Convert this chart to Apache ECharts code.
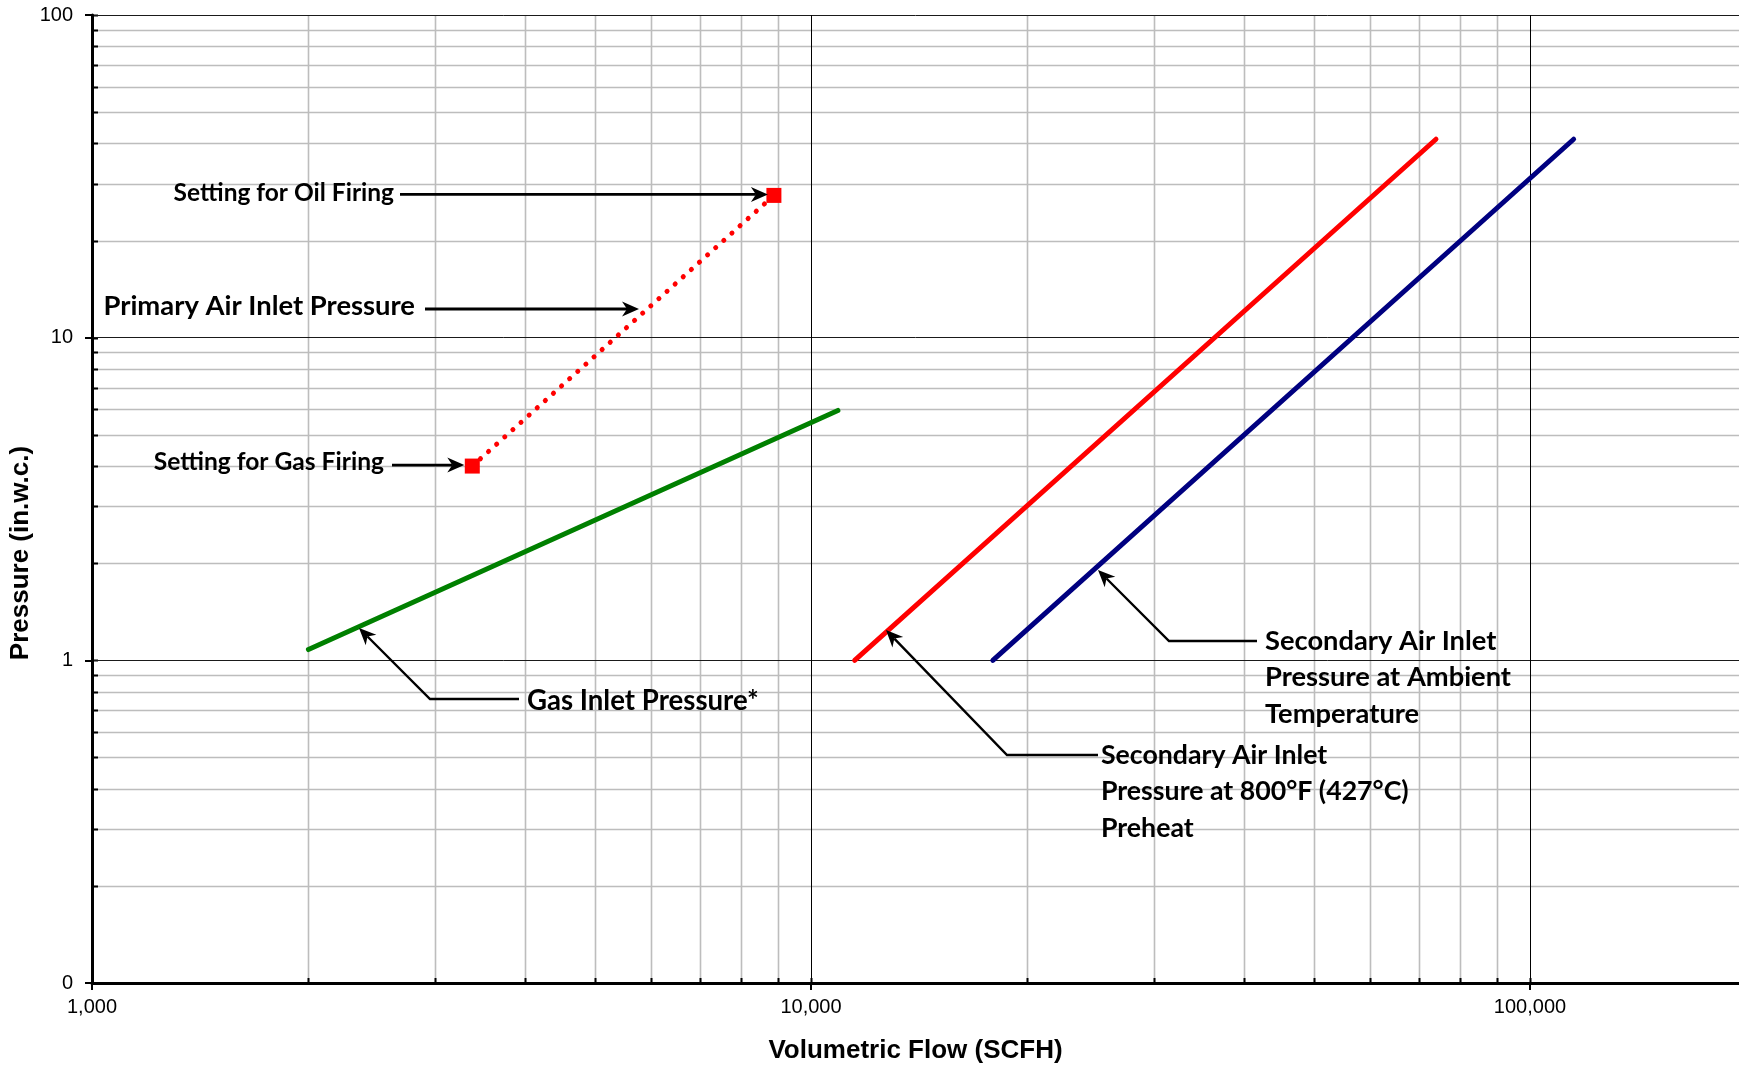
<!DOCTYPE html>
<html>
<head>
<meta charset="utf-8">
<script src="https://cdn.jsdelivr.net/npm/echarts@6/dist/echarts.min.js"></script>
<style>
  html, body { margin: 0; padding: 0; background: #ffffff; }
  #chart { width: 1739px; height: 1068px; }
</style>
</head>
<body>
<div id="chart"></div>
<script>
// Axis ticks and labels
const xTickValues = [1000, 10000, 100000];
const xTickLabels = ['1,000', '10,000', '100,000'];
const yTickValues = [0.1, 1, 10, 100];
const yTickLabels = ['0', '1', '10', '100'];
const xMinorGrid = [2000, 3000, 4000, 5000, 6000, 7000, 8000, 9000,
                    20000, 30000, 40000, 50000, 60000, 70000, 80000, 90000];
const yMinorGrid = [0.2, 0.3, 0.4, 0.5, 0.6, 0.7, 0.8, 0.9,
                    2, 3, 4, 5, 6, 7, 8, 9,
                    20, 30, 40, 50, 60, 70, 80, 90];

// Curves: [volumetric flow SCFH, pressure in.w.c.]
const primaryAir = [[3380, 4.0], [8880, 27.6]];
const gasInlet = [[2000, 1.08], [10900, 5.95]];
const secondaryPreheat = [[11500, 1.0], [74000, 41.2]];
const secondaryAmbient = [[17900, 1.0], [115000, 41.2]];

const X_MIN = 1000, X_MAX = 195300, Y_MIN = 0.1, Y_MAX = 100;

const chart = echarts.init(document.getElementById('chart'), null, { renderer: 'canvas' });

// Minor grid lines plus the short inside tick marks along both axes
const gridData = [];
xMinorGrid.forEach(v => gridData.push([v, 1, 0, 1]));
xTickValues.forEach(v => gridData.push([v, 1, 0, 0]));
yMinorGrid.forEach(v => gridData.push([X_MIN * 10, v, 1, 1]));
yTickValues.forEach(v => gridData.push([X_MIN * 10, v, 1, 0]));

function renderGrid(params, api) {
  const cs = params.coordSys;
  const kind = api.value(2);
  const withLine = api.value(3) === 1;
  const children = [];
  if (kind === 0) {
    const p = api.coord([api.value(0), 1]);
    const x = Math.round(p[0]) + 0.5;
    if (withLine) {
      children.push({ type: 'line', shape: { x1: x, y1: cs.y, x2: x, y2: cs.y + cs.height },
        style: { stroke: '#bdbdbd', lineWidth: 1.6 } });
    }
    children.push({ type: 'line', shape: { x1: x, y1: cs.y + cs.height, x2: x, y2: cs.y + cs.height - 5 },
      style: { stroke: '#000', lineWidth: 2 } });
  } else {
    const p = api.coord([X_MIN * 10, api.value(1)]);
    const y = Math.round(p[1]) + 0.5;
    if (withLine) {
      children.push({ type: 'line', shape: { x1: cs.x, y1: y, x2: cs.x + cs.width, y2: y },
        style: { stroke: '#bdbdbd', lineWidth: 1.6 } });
    }
    children.push({ type: 'line', shape: { x1: cs.x, y1: y, x2: cs.x + 6, y2: y },
      style: { stroke: '#000', lineWidth: 2 } });
  }
  return { type: 'group', children };
}

const axisFont = 'Liberation Sans';

chart.setOption({
  animation: false,
  backgroundColor: '#ffffff',
  grid: { left: 92, right: 0, top: 15, bottom: 85, containLabel: false, outerBoundsMode: 'none' },
  xAxis: {
    type: 'log', logBase: 10, min: X_MIN, max: X_MAX,
    name: 'Volumetric Flow (SCFH)', nameLocation: 'middle', nameGap: 58,
    nameTextStyle: { fontFamily: axisFont, fontWeight: 'bold', fontSize: 26, lineHeight: 20, color: '#000' },
    axisLine: { show: true, onZero: false, lineStyle: { color: '#000', width: 3 } },
    axisTick: { show: true, inside: false, length: 7, lineStyle: { color: '#000', width: 2 } },
    axisLabel: {
      fontFamily: axisFont, fontSize: 20, color: '#000', margin: 14, showMaxLabel: false,
      formatter: v => {
        const i = xTickValues.findIndex(t => Math.abs(Math.log10(t) - Math.log10(v)) < 1e-6);
        return i >= 0 ? xTickLabels[i] : '';
      }
    },
    splitLine: { show: true, lineStyle: { color: '#000', width: 1 } }
  },
  yAxis: {
    type: 'log', logBase: 10, min: Y_MIN, max: Y_MAX,
    axisLine: { show: true, onZero: false, lineStyle: { color: '#000', width: 3 } },
    axisTick: { show: true, inside: false, length: 7, lineStyle: { color: '#000', width: 2 } },
    axisLabel: {
      fontFamily: axisFont, fontSize: 20, color: '#000', margin: 19,
      formatter: v => {
        const i = yTickValues.findIndex(t => Math.abs(Math.log10(t) - Math.log10(v)) < 1e-6);
        return i >= 0 ? yTickLabels[i] : '';
      }
    },
    splitLine: { show: true, lineStyle: { color: '#1a1a1a', width: 1 } }
  },
  series: [
    {
      type: 'custom', name: 'grid', silent: true, z: -1,
      renderItem: renderGrid, encode: { x: 0, y: 1 }, data: gridData
    },
    {
      type: 'line', name: 'Primary Air Inlet Pressure', data: primaryAir,
      symbol: 'rect', symbolSize: 15, showSymbol: true,
      itemStyle: { color: '#ff0000' },
      lineStyle: { color: '#ff0000', width: 5, type: [0.1, 10.8], cap: 'round' },
      z: 4
    },
    {
      type: 'line', name: 'Gas Inlet Pressure', data: gasInlet, symbol: 'none',
      lineStyle: { color: '#008000', width: 5, cap: 'round' }, z: 3
    },
    {
      type: 'line', name: 'Secondary Air Inlet Pressure at 800°F', data: secondaryPreheat, symbol: 'none',
      lineStyle: { color: '#ff0000', width: 5, cap: 'round' }, z: 3
    },
    {
      type: 'line', name: 'Secondary Air Inlet Pressure at Ambient', data: secondaryAmbient, symbol: 'none',
      lineStyle: { color: '#000080', width: 5, cap: 'round' }, z: 3
    }
  ]
});

// Callout arrows: a polyline ending in a filled stealth head
function arrow(points, lw) {
  const n = points.length;
  const [tx, ty] = points[n - 1];
  const [px, py] = points[n - 2];
  const ang = Math.atan2(ty - py, tx - px);
  const L = 17, W = 7.5, N = 5;
  const ux = Math.cos(ang), uy = Math.sin(ang), vx = -uy, vy = ux;
  const bx = tx - ux * L, by = ty - uy * L;
  const nx = tx - ux * (L - N), ny = ty - uy * (L - N);
  const pts = points.slice(0, n - 1).concat([[nx, ny]]);
  return [
    { type: 'polyline', z: 50, silent: true, shape: { points: pts },
      style: { stroke: '#000', lineWidth: lw, fill: null } },
    { type: 'polygon', z: 50, silent: true,
      shape: { points: [[tx, ty], [bx + vx * W, by + vy * W], [nx, ny], [bx - vx * W, by - vy * W]] },
      style: { fill: '#000' } }
  ];
}

function label(text, x, y, align, size) {
  return {
    type: 'text', z: 50, silent: true, x, y,
    style: { text, font: 'bold ' + size + 'px Lato', fill: '#000', align, verticalAlign: 'middle' }
  };
}

const oilPx = chart.convertToPixel({ gridIndex: 0 }, primaryAir[1]);
const gasPx = chart.convertToPixel({ gridIndex: 0 }, primaryAir[0]);

const elements = [];
elements.push(...arrow([[400, oilPx[1] - 1], [oilPx[0] - 6, oilPx[1] - 1]], 2.8));
elements.push(label('Setting for Oil Firing', 394, oilPx[1] - 2, 'right', 24.5));

elements.push(...arrow([[425, 309], [639, 309]], 2.8));
elements.push(label('Primary Air Inlet Pressure', 415, 306, 'right', 27.4));

elements.push(...arrow([[392, gasPx[1] - 1], [gasPx[0] - 8, gasPx[1] - 1]], 2.8));
elements.push(label('Setting for Gas Firing', 384, gasPx[1] - 4, 'right', 24.6));

elements.push(...arrow([[519, 699], [430, 699], [359, 628]], 2.4));
elements.push(label('Gas Inlet Pressure*', 527, 701, 'left', 27.6));

elements.push(...arrow([[1098, 755], [1007, 755], [886, 630]], 2.4));
elements.push({
  type: 'text', z: 50, silent: true, x: 1101, y: 737,
  style: { text: 'Secondary Air Inlet\nPressure at 800°F (427°C)\nPreheat',
    font: 'bold 26.7px Lato', fill: '#000', align: 'left', verticalAlign: 'top', lineHeight: 36.5 }
});

elements.push(...arrow([[1257, 641], [1169, 641], [1098, 570]], 2.4));
elements.push({
  type: 'text', z: 50, silent: true, x: 1265, y: 623,
  style: { text: 'Secondary Air Inlet\nPressure at Ambient\nTemperature',
    font: 'bold 27.3px Lato', fill: '#000', align: 'left', verticalAlign: 'top', lineHeight: 36.3 }
});

// Vertical axis title
elements.push({
  type: 'text', z: 50, silent: true, x: 21, y: 553, rotation: Math.PI / 2,
  style: { text: 'Pressure (in.w.c.)', font: 'bold 26px "Liberation Sans"', fill: '#000',
    align: 'center', verticalAlign: 'middle' }
});

chart.setOption({ graphic: { elements } });
</script>
</body>
</html>
